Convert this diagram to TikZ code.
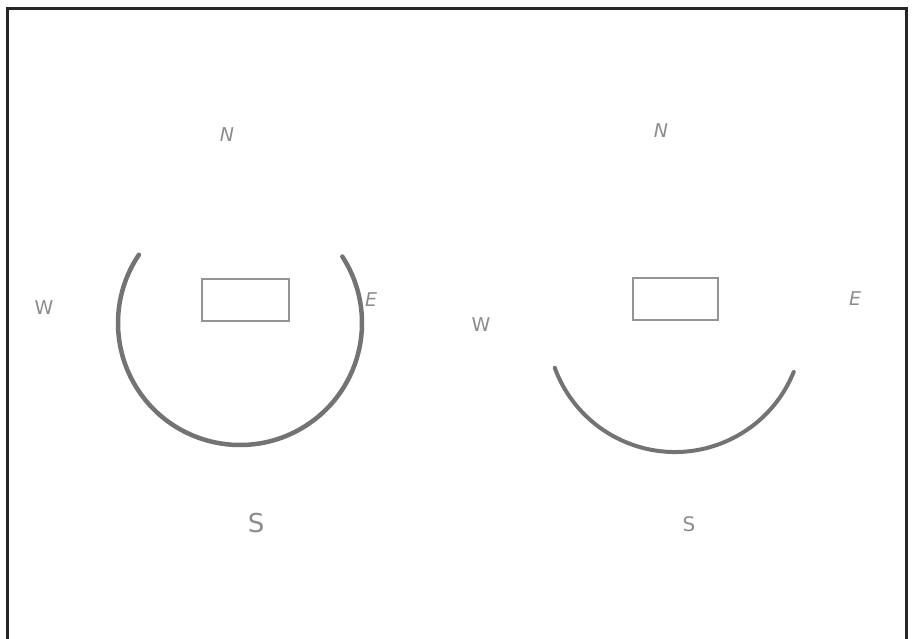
\documentclass[tikz,border=0pt]{standalone}
\usepackage{fontspec}
\setsansfont{DejaVu Sans}
\begin{document}
\begin{tikzpicture}[x=1pt,y=-1pt,
  lbl/.style={text=black!45, font=\sffamily\fontsize{19}{19}\selectfont\itshape, inner sep=0pt},
  box/.style={draw=black!42, line width=1.6pt, inner sep=0pt},
  ring/.style={draw=black!55, line width=4pt, line cap=round}]
\useasboundingbox (0,0) rectangle (913,639);
\fill[white] (0,0) rectangle (913,639);
% frame (open at bottom)
\draw[line width=3pt, black!85] (7,639) -- (7,9) -- (906,9) -- (906,639);
% left diagram
\node[box, minimum width=87pt, minimum height=42pt] (r1) at (245.5,300) {};
\draw[ring, line width=4.5pt] (240,323) ++(-33:122) arc[start angle=-33, end angle=214, radius=122];
\node[lbl] (n1) at (227,135) {N};
\node[lbl, font=\sffamily\fontsize{19}{19}\selectfont] (w1) at (44,308) {W};
\node[lbl] (e1) at (371,300) {E};
\node[lbl, font=\sffamily\fontsize{26}{26}\selectfont] (s1) at (256,523) {S};
% right diagram
\node[box, minimum width=85pt, minimum height=42pt] (r2) at (675.5,299) {};
\draw[ring] (675,324) ++(22:128) arc[start angle=22, end angle=160, radius=128];
\node[lbl] (n2) at (661,131) {N};
\node[lbl, font=\sffamily\fontsize{19}{19}\selectfont] (w2) at (481,325) {W};
\node[lbl] (e2) at (855,299) {E};
\node[lbl, font=\sffamily\fontsize{20}{20}\selectfont] (s2) at (689,524) {S};
\end{tikzpicture}
\end{document}
